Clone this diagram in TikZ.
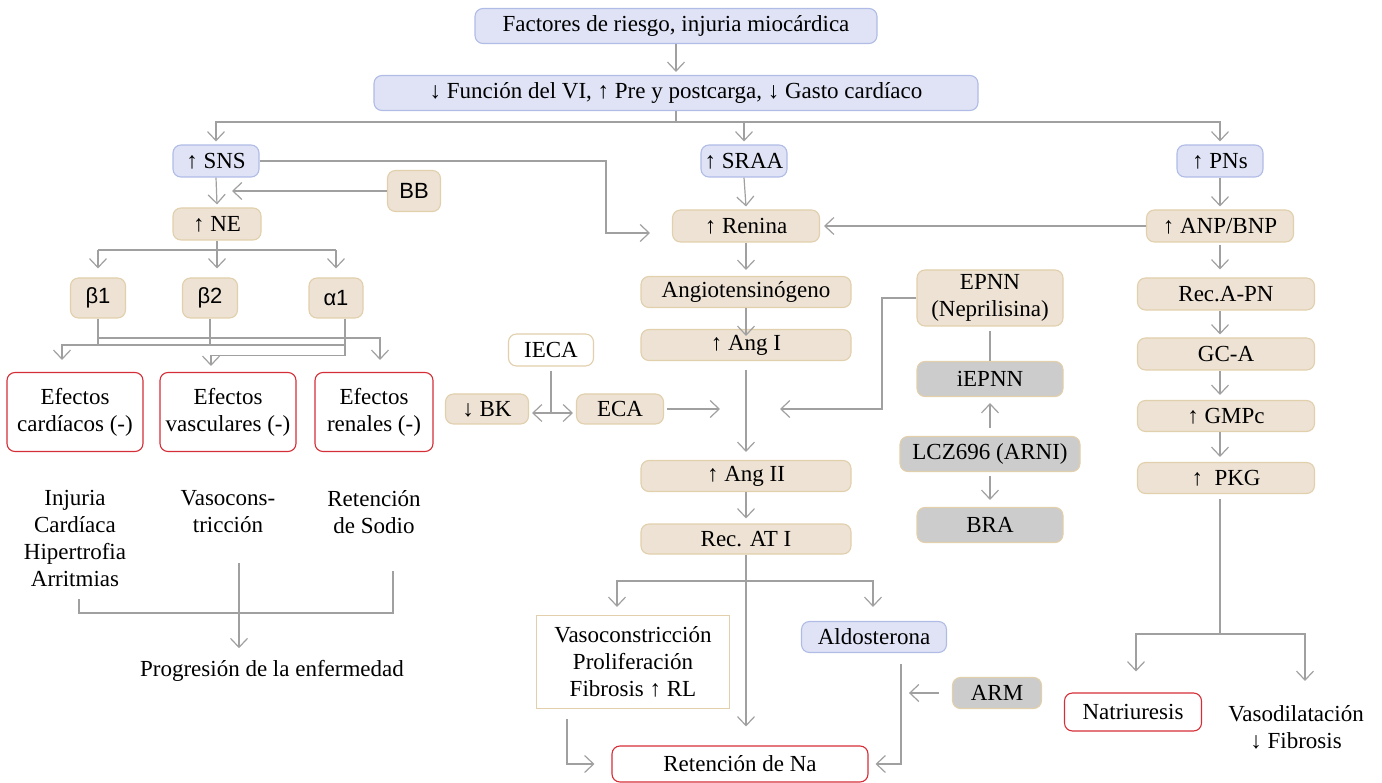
\documentclass[tikz,border=0pt]{standalone}
\usepackage{fontspec}
\setmainfont{Liberation Serif}
\newfontfamily\sansf{Liberation Sans}
\usetikzlibrary{arrows.meta}
\definecolor{bfill}{RGB}{223,227,245}
\definecolor{bdraw}{RGB}{176,188,230}
\definecolor{efill}{RGB}{237,226,211}
\definecolor{edraw}{RGB}{226,207,172}
\definecolor{gfill}{RGB}{204,204,204}
\definecolor{rdraw}{RGB}{214,46,56}
\definecolor{lgray}{RGB}{160,160,160}
\tikzset{
  txt/.style={inner sep=0pt, align=center, font=\fontsize{23}{27}\selectfont},
  base/.style={txt, rounded corners=8pt, line width=1.1pt},
  bluebox/.style={base, fill=bfill, draw=bdraw},
  beigebox/.style={base, fill=efill, draw=edraw},
  graybox/.style={base, fill=gfill, draw=edraw},
  redbox/.style={base, fill=white, draw=rdraw},
  whitebox/.style={base, fill=white, draw=edraw},
  sansbox/.style={beigebox, font=\sansf\fontsize{22}{26}\selectfont},
  sz/.style 2 args={minimum width=#1pt, minimum height=#2pt},
  ln/.style={draw=lgray, line width=1.2pt},
  arr/.style={ln, -{Straight Barb[length=9pt,width=17pt]}},
  darr/.style={ln, {Straight Barb[length=9pt,width=17pt]}-{Straight Barb[length=9pt,width=17pt]}},
}
\begin{document}
\begin{tikzpicture}[x=1pt,y=-1pt]
\useasboundingbox (0,0) rectangle (1382,783);
% top
\node[bluebox, sz={402}{35}] (top) at (676,26) {Factores de riesgo, injuria miocárdica};
\node[bluebox, sz={604}{35}] (fn) at (676,93) {↓ Función del VI, ↑ Pre y postcarga, ↓ Gasto cardíaco};
% second row
\node[bluebox, sz={86}{32}] (sns) at (216,161) {↑ SNS};
\node[bluebox, sz={86}{32}] (sraa) at (744,161) {↑ SRAA};
\node[bluebox, sz={86}{32}] (pns) at (1220,161) {↑ PNs};
\node[sansbox, sz={53}{41}] (bb) at (414,191) {BB};
\node[beigebox, sz={88}{32}] (ne) at (217,224) {↑ NE};
\node[beigebox, sz={147}{32}] (renina) at (746,226) {↑ Renina};
\node[beigebox, sz={147}{32}] (anp) at (1220,226) {↑ ANP/BNP};
% receptors
\node[sansbox, sz={55}{40}] (b1) at (98,298) {β1};
\node[sansbox, sz={55}{40}] (b2) at (210,298) {β2};
\node[sansbox, sz={54}{40}] (a1) at (336,298) {α1};
% efectos
\node[redbox, sz={136}{79}] (ec) at (75,412) {Efectos\\cardíacos (-)};
\node[redbox, sz={136}{79}] (ev) at (228,412) {Efectos\\vasculares (-)};
\node[redbox, sz={118}{79}] (er) at (374,412) {Efectos\\renales (-)};
\node[txt] (inj) at (75,538) {Injuria\\Cardíaca\\Hipertrofia\\Arritmias};
\node[txt] (vct) at (228,512) {Vasocons-\\tricción};
\node[txt] (rsod) at (374,512) {Retención\\de Sodio};
\node[txt] (prog) at (272,671) {Progresión de la enfermedad};
% middle column
\node[beigebox, sz={210}{31}] (angio) at (746,292) {Angiotensinógeno};
\node[beigebox, sz={210}{31}] (angi) at (746,345) {↑ Ang I};
\node[whitebox, sz={85}{32}] (ieca) at (551,350) {IECA};
\node[beigebox, sz={83}{30}] (bk) at (487,409) {↓ BK};
\node[beigebox, sz={87}{30}] (eca) at (620,409) {ECA};
\node[beigebox, sz={210}{31}] (angii) at (746,476) {↑ Ang II};
\node[beigebox, sz={210}{30}] (recat) at (746,539) {Rec. AT I};
\node[whitebox, rounded corners=0pt, sz={193}{93}] (vaso) at (633,662) {Vasoconstricción\\Proliferación\\Fibrosis ↑ RL};
\node[bluebox, sz={145}{31}] (aldo) at (874,637) {Aldosterona};
\node[graybox, sz={89}{31}] (arm) at (997,693) {ARM};
\node[redbox, sz={256}{36}] (retna) at (740,764) {Retención de Na};
% EPNN column
\node[beigebox, sz={146}{56}] (epnn) at (990,298) {EPNN\\(Neprilisina)};
\node[graybox, sz={146}{35}] (iepnn) at (990,379) {iEPNN};
\node[graybox, sz={180}{35}] (lcz) at (990,454) {LCZ696 (ARNI)};
\node[graybox, sz={146}{35}] (bra) at (990,525) {BRA};
% right column
\node[beigebox, sz={177}{32}] (recapn) at (1226,294) {Rec.A-PN};
\node[beigebox, sz={177}{32}] (gca) at (1226,354) {GC-A};
\node[beigebox, sz={177}{31}] (gmpc) at (1226,416) {↑ GMPc};
\node[beigebox, sz={177}{31}] (pkg) at (1226,478) {↑\enspace PKG};
\node[redbox, sz={137}{38}] (natri) at (1133,712) {Natriuresis};
\node[txt] (vasod) at (1296,727) {Vasodilatación\\↓ Fibrosis};

% coordinates
\coordinate (fnj) at (676,122);
\coordinate (bbend) at (232,191);
\coordinate (sncorner) at (606,161);
\coordinate (renin) at (650,233);
\coordinate (nej) at (217,250);
\coordinate (lA) at (99,338);
\coordinate (lB) at (345,345);
\coordinate (rj) at (746,581);
\coordinate (pkgj) at (1220,634);
\coordinate (ecaend) at (720,409);
\coordinate (epend) at (780,409);
\coordinate (iecaj) at (551,413);
\coordinate (bl1) at (79,599);
\coordinate (bl2) at (79,613);
\coordinate (bl3) at (393,613);
\coordinate (bl4) at (393,571);
\coordinate (pv) at (239,563);

% connectors
\draw[arr] (top.south) -- ([yshift=3pt]fn.north);
\draw[ln] (fn.south) -- (fnj);
\draw[arr] (fnj) -| ([yshift=3pt]sns.north);
\draw[arr] (fnj) -| ([yshift=3pt]sraa.north);
\draw[arr] (fnj) -| ([yshift=3pt]pns.north);
\draw[arr] (sns.south) -- ([yshift=3pt]ne.north);
\draw[arr] (bb.west) -- (bbend);
\draw[arr] (sns.east) -- (sncorner) |- (renin);
\draw[arr] (sraa.south) -- ([yshift=3pt]renina.north);
\draw[arr] (anp.west) -- ([xshift=4pt]renina.east);
\draw[arr] (pns.south) -- ([yshift=3pt]anp.north);
% NE to receptors
\draw[ln] (ne.south) -- (nej);
\draw[ln] (nej -| b1.north) -- (nej -| a1.north);
\draw[arr] (nej -| b1.north) -- ([yshift=9pt]b1.north);
\draw[arr] (nej) -- ([yshift=9pt]b2.north -| nej);
\draw[arr] (nej -| a1.north) -- ([yshift=9pt]a1.north);
% receptors to efectos
\draw[ln] (b1.south) -- (b1.south |- lB);
\draw[ln] (b2.south) -- (b2.south |- lB);
\draw[arr] (lA) -| ([xshift=6pt,yshift=12pt]er.north);
\draw[arr] (lB) -| ([xshift=-13pt,yshift=12pt]ec.north);
\draw[arr] ([xshift=9pt]a1.south) -- ++(0,37) -| ([xshift=-17pt,yshift=6pt]ev.north);
% bracket to progression
\draw[ln] (bl1) -- (bl2) -- (bl3) -- (bl4);
\draw[arr] (pv) -- ([yshift=12pt]prog.north -| pv);
% middle
\draw[arr] (renina.south) -- ([yshift=6pt]angio.north);
\draw[arr] (angio.south) -- ([yshift=-7pt]angi.north);
\draw[arr] ([yshift=-9pt]angi.south) -- ([yshift=8pt]angii.north);
\draw[arr] ([xshift=3pt]eca.east) -- (ecaend);
\draw[arr] (epnn.west) -| (epend -| 882,0) -- (epend);
\draw[ln] ([yshift=-4pt]ieca.south) -- (iecaj);
\draw[darr] ([xshift=3pt]bk.east |- iecaj) -- ([xshift=-3pt]eca.west |- iecaj);
\draw[arr] (angii.south) -- ([yshift=5pt]recat.north);
\draw[arr] (recat.south) -- ([yshift=19pt]retna.north -| recat.south);
\draw[arr] (rj) -| ([xshift=-16pt,yshift=8pt]vaso.north);
\draw[arr] (rj) -| ([xshift=-1pt,yshift=14pt]aldo.north);
\draw[arr] ([xshift=-13pt]arm.west) -- ([xshift=-43pt]arm.west);
\draw[arr] ([xshift=27pt,yshift=-11pt]aldo.south) |- ([xshift=7pt]retna.east);
\draw[arr] ([xshift=-66pt,yshift=-10pt]vaso.south) |- ([xshift=-17pt]retna.west);
% EPNN column
\draw[ln] ([yshift=-4pt]epnn.south) -- (iepnn.north);
\draw[arr] ([yshift=8pt]lcz.north) -- ([yshift=-6pt]iepnn.south);
\draw[arr] ([yshift=-4pt]lcz.south) -- ([yshift=7pt]bra.north);
% right column
\draw[arr] ([yshift=-2pt]anp.south) -- ([yshift=8pt]recapn.north -| anp.south);
\draw[arr] (recapn.south -| anp.south) -- ([yshift=3pt]gca.north -| anp.south);
\draw[arr] (gca.south -| anp.south) -- ([yshift=5pt]gmpc.north -| anp.south);
\draw[arr] (gmpc.south -| anp.south) -- ([yshift=5pt]pkg.north -| anp.south);
\draw[ln] ([yshift=-5pt]pkg.south -| anp.south) -- (pkgj);
\draw[arr] (pkgj) -| ([xshift=3pt,yshift=21pt]natri.north);
\draw[arr] (pkgj) -| ([xshift=9pt,yshift=24pt]vasod.north);
\end{tikzpicture}
\end{document}
